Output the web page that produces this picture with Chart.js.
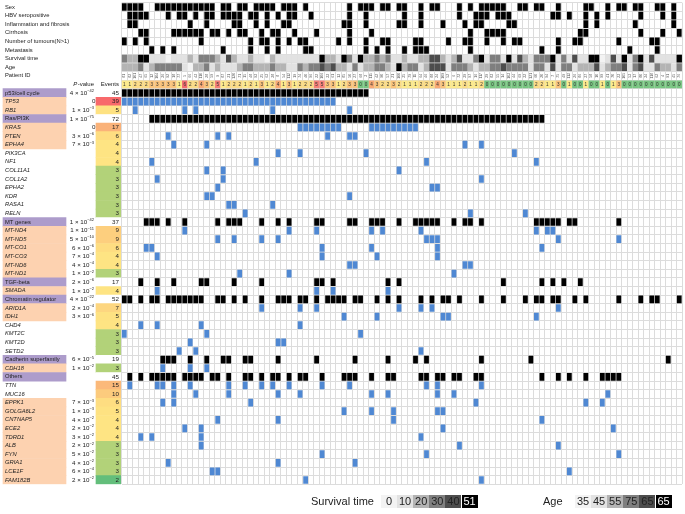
<!DOCTYPE html>
<html>
<head>
<meta charset="utf-8">
<style>
  html, body { margin: 0; padding: 0; background: #fff; width: 685px; height: 514px; overflow: hidden; }
  body { position: relative; font-family: "Liberation Sans", Arial, sans-serif; color: #222; }
  #side-wrap { position: absolute; left: 0; top: 0; width: 121px; height: 514px; }
  #matrix-wrap { position: absolute; left: 121px; top: 0; width: 564px; height: 514px; }
  .legend-title { position: absolute; top: 495px; height: 13px; line-height: 13px; font-size: 11px; }
  .legend-box { position: absolute; top: 495px; height: 13px; width: 16px; line-height: 13px; font-size: 11px; text-align: center; }
</style>
</head>
<body>
<div id="side-wrap"><canvas id="side-chart" width="121" height="514"></canvas></div>
<div id="matrix-wrap"><canvas id="matrix-chart" width="564" height="514"></canvas></div>
<div id="legend"></div>
<script src="https://cdn.jsdelivr.net/npm/chart.js@4"></script>
<script>
// row names, top to bottom
const annotationNames = ['Sex', 'HBV seropositive', 'Inflammation and fibrosis', 'Cirrhosis', 'Number of tumours(N>1)', 'Metastasis', 'Survival time', 'Age', 'Patient ID', ''];
const geneNames = ['p53/cell cycle', 'TP53', 'RB1', 'Ras/PI3K', 'KRAS', 'PTEN', 'EPHA4', 'PIK3CA', 'NF1', 'COL11A1', 'COL1A2', 'EPHA2', 'KDR', 'RASA1', 'RELN',
    'MT genes', 'MT-ND4', 'MT-ND5', 'MT-CO1', 'MT-CO3', 'MT-ND6', 'MT-ND1', 'TGF-beta', 'SMADA', 'Chromatin regulator', 'ARID1A', 'IDH1', 'CHD4', 'KMT2C', 'KMT2D', 'SETD2',
    'Cadherin superfamily', 'CDH18', 'Others', 'TTN', 'MUC16', 'EPPK1', 'GOLGA6L2', 'CNTNAP5', 'ECE2', 'TDRD1', 'ALB', 'FYN', 'GRIA1', 'LCE1F', 'FAM182B'];
const groupNames = ['p53/cell cycle', 'Ras/PI3K', 'MT genes', 'TGF-beta', 'Chromatin regulator', 'Cadherin superfamily', 'Others'];

// mutation events per gene row
const eventCounts = [45, 39, 5, 72, 17, 6, 4, 4, 4, 3, 3, 3, 3, 3, 3, 37, 9, 9, 6, 4, 4, 3, 17, 4, 52, 7, 5, 4, 3, 3, 3, 19, 3, 45, 15, 10, 6, 5, 4, 4, 4, 3, 3, 3, 3, 2];
// [coefficient, exponent]; 0 = printed as 0, null = blank
const pValues = [[4, -42], 0, [1, -3], [1, -75], 0, [3, -6], [7, -3], null, null, null, null, null, null, null, null,
    [1, -42], [1, -11], [5, -10], [6, -6], [7, -4], [4, -4], [1, -2], [2, -6], [1, -2], [4, -22], [2, -4], [3, -6], null, null, null, null,
    [6, -5], [1, -2], null, null, null, [7, -3], [1, -3], [4, -2], [2, -2], [3, -2], [2, -2], [5, -2], [4, -2], [6, -4], [2, -2]];

// patient columns
const patientIds = ['81', '82', '101', '47', '65', '12', '104', '36', '92', '18', '77', '5', '66', '43', '110', '28', '59', '9', '87', '31',
    '120', '71', '15', '48', '93', '25', '63', '38', '8', '54', '112', '19', '74', '40', '96', '22', '106', '33', '61', '13', '85', '50', '27', '68', '3', '115', '42', '90', '57', '21',
    '100', '35', '79', '11', '64', '46', '88', '24', '109', '52', '6', '72', '39', '97', '16', '117', '29', '83', '55', '14', '103', '44', '69', '32', '121', '60', '20', '94', '7', '75',
    '49', '113', '26', '86', '37', '58', '10', '99', '41', '70', '23', '105', '53', '17', '80', '34', '118', '62', '4', '91', '45', '76'];
const sampleEvents = [1, 1, 2, 2, 2, 3, 3, 3, 3, 3, 1, 6, 2, 2, 4, 3, 2, 5, 1, 2,
    2, 2, 1, 2, 1, 3, 1, 2, 4, 1, 3, 1, 2, 2, 2, 5, 5, 3, 3, 1, 2, 3, 3, 0, 0, 4, 3, 2, 2, 3, 2, 1, 1, 1, 2, 2, 2, 4, 3, 1,
    1, 1, 2, 1, 1, 2, 0, 0, 0, 0, 0, 0, 0, 0, 0, 2, 2, 1, 1, 3, 0, 1, 0, 0, 1, 0, 0, 1, 0, 1, 3, 0, 0, 0, 0, 0, 0, 0, 0, 0, 0, 0];
// shade bins for the two grey rows (0 lightest .. 5 black)
const survivalBins = [3, 2, 2, 5, 5, 1, 1, 1, 0, 1, 1, 1, 2, 1, 3, 3, 3, 2, 1, 4,
    2, 1, 1, 2, 1, 1, 0, 2, 1, 1, 1, 1, 1, 1, 1, 1, 5, 2, 2, 1, 5, 3, 1, 5, 2, 2, 3, 2, 3, 1, 1, 2, 1, 1, 2, 2, 4, 4, 2, 1,
    2, 4, 1, 1, 3, 5, 1, 3, 3, 1, 5, 1, 4, 2, 1, 3, 3, 3, 5, 1, 3, 1, 4, 1, 1, 5, 5, 0, 1, 4, 1, 5, 1, 3, 5, 1, 4, 1, 1, 1, 1, 5];
const ageBins = [2, 2, 2, 3, 1, 2, 3, 3, 3, 3, 3, 1, 0, 2, 2, 3, 1, 2, 1, 1,
    1, 2, 3, 3, 2, 2, 2, 3, 2, 2, 1, 1, 3, 2, 3, 3, 4, 3, 4, 2, 2, 1, 3, 1, 2, 2, 3, 3, 2, 1, 5, 2, 3, 3, 1, 2, 4, 4, 4, 1,
    3, 3, 3, 2, 1, 2, 2, 3, 3, 4, 3, 3, 3, 3, 1, 3, 3, 1, 4, 1, 3, 3, 1, 2, 2, 2, 4, 1, 2, 3, 3, 4, 1, 3, 4, 1, 1, 3, 2, 2, 1, 3];

// clinical annotation columns
const sexCols = [0, 1, 2, 3, 6, 7, 8, 9, 10, 11, 12, 13, 14, 15, 16, 18, 19, 21, 22, 24, 25, 26, 27, 29, 30, 31, 33, 41, 43, 44, 45, 47, 48, 50, 51, 54, 56, 57, 61, 63, 65, 66, 67, 68, 69, 72, 73, 75, 76, 79, 84, 85, 88, 90, 91, 93, 94, 97, 98, 100];
const hbvCols = [1, 2, 3, 4, 8, 10, 11, 13, 15, 16, 18, 19, 20, 21, 23, 24, 26, 28, 30, 31, 34, 41, 44, 51, 54, 61, 64, 65, 66, 68, 69, 70, 78, 79, 81, 84, 86, 88, 94, 98, 100];
const inflammationCols = [1, 2, 12, 15, 20, 21, 24, 26, 29, 30, 40, 41, 44, 50, 51, 54, 58, 62, 64, 65, 70, 71, 84, 86, 93, 100];
const cirrhosisCols = [3, 4, 9, 10, 11, 12, 13, 14, 16, 17, 19, 21, 22, 25, 27, 28, 31, 35, 41, 45, 63, 66, 67, 68, 69, 83, 84, 94, 98, 101];
const tumourCols = [0, 2, 4, 14, 23, 25, 26, 28, 30, 32, 33, 39, 41, 44, 47, 48, 53, 54, 59, 62, 63, 66, 69, 71, 72, 79, 82, 83, 90, 96, 97];
const metastasisCols = [5, 7, 9, 18, 23, 26, 28, 33, 34, 44, 46, 48, 51, 53, 54, 55, 63, 76, 79, 92, 97];

// mutated patient columns per gene, same order as geneNames
const p53Cols = [0, 1, 2, 3, 4, 5, 6, 7, 8, 9, 10, 11, 12, 13, 14, 15, 16, 17, 18, 19, 20, 21, 22, 23, 24, 25, 26, 27, 28, 29, 30, 31, 32, 33, 34, 35, 36, 37, 38, 39, 40, 41, 42, 43, 44];
const tp53Cols = [0, 1, 2, 3, 4, 5, 6, 7, 8, 9, 10, 11, 12, 13, 14, 15, 16, 17, 18, 19, 20, 21, 22, 23, 24, 25, 26, 27, 28, 29, 30, 31, 32, 33, 34, 35, 36, 37, 38];
const rb1Cols = [2, 11, 13, 27, 41];
const rasCols = [5, 6, 7, 8, 9, 10, 11, 12, 13, 14, 15, 16, 17, 18, 19, 20, 21, 22, 23, 24, 25, 26, 27, 28, 29, 30, 31, 32, 33, 34, 35, 36, 37, 38, 39, 40, 41, 42, 43, 44, 45, 46, 47, 48, 49, 50, 51, 52, 53, 54, 55, 56, 57, 58, 59, 60, 61, 62, 63, 64, 65, 66, 67, 68, 69, 70, 71, 72, 73, 74, 75, 76];
const krasCols = [32, 33, 34, 35, 36, 37, 38, 39, 45, 46, 47, 48, 49, 50, 51, 52, 53];
const ptenCols = [8, 17, 19, 37, 41, 42];
const epha4Cols = [9, 15, 62, 65];
const pik3caCols = [28, 32, 44, 71];
const nf1Cols = [5, 24, 55, 75];
const col11a1Cols = [15, 18, 50];
const col1a2Cols = [6, 18, 65];
const epha2Cols = [17, 56, 57];
const kdrCols = [15, 16, 41];
const rasa1Cols = [19, 20, 27];
const relnCols = [22, 63, 73];
const mtCols = [4, 5, 6, 8, 11, 17, 19, 20, 21, 25, 28, 30, 35, 36, 41, 42, 45, 46, 47, 50, 53, 54, 55, 56, 57, 60, 62, 63, 65, 75, 76, 77, 78, 79, 81, 82, 90];
const nd4Cols = [11, 30, 35, 45, 47, 54, 75, 77, 78];
const nd5Cols = [17, 20, 25, 28, 55, 56, 57, 79, 90];
const co1Cols = [4, 5, 36, 45, 57, 76];
const co3Cols = [6, 36, 46, 57];
const nd6Cols = [41, 42, 62, 63];
const nd1Cols = [21, 30, 60];
const tgfCols = [3, 6, 9, 14, 15, 20, 25, 35, 36, 38, 48, 50, 69, 76, 78, 80, 83];
const smadaCols = [6, 35, 38, 48];
const chromatinCols = [0, 1, 3, 5, 6, 8, 9, 10, 11, 12, 13, 14, 17, 18, 20, 22, 25, 28, 29, 30, 32, 33, 35, 37, 38, 39, 40, 42, 43, 46, 48, 50, 54, 56, 58, 59, 61, 65, 69, 73, 75, 76, 78, 79, 82, 84, 90, 94, 96, 97, 101];
const arid1aCols = [25, 32, 35, 50, 54, 56, 79];
const idh1Cols = [40, 46, 58, 59, 75];
const chd4Cols = [3, 6, 14, 32];
const kmt2cCols = [0, 15, 43];
const kmt2dCols = [12, 28, 29];
const setd2Cols = [10, 13, 54];
const cadherinCols = [7, 8, 9, 12, 15, 18, 19, 22, 23, 28, 35, 42, 48, 53, 55, 65, 74, 99];
const cdh18Cols = [7, 12, 15];
const othersCols = [1, 3, 5, 6, 7, 8, 9, 11, 12, 13, 14, 16, 17, 19, 22, 23, 25, 27, 28, 30, 32, 33, 36, 40, 41, 42, 45, 48, 49, 54, 55, 57, 58, 60, 61, 64, 65, 76, 79, 81, 84, 87, 88, 89, 90];
const ttnCols = [1, 6, 7, 9, 12, 19, 22, 25, 27, 30, 36, 41, 55, 57, 65];
const muc16Cols = [9, 13, 19, 28, 32, 45, 48, 57, 60, 88];
const eppk1Cols = [7, 9, 23, 64, 84, 87];
const golgaCols = [40, 45, 49, 57, 58];
const cntnap5Cols = [17, 28, 49, 76];
const ece2Cols = [11, 14, 58, 89];
const tdrd1Cols = [3, 5, 14, 54];
const albCols = [14, 61, 79];
const fynCols = [36, 55, 90];
const gria1Cols = [8, 28, 42];
const lce1fCols = [16, 17, 81];
const famCols = [33, 65];

const rowNames = annotationNames.concat(geneNames);
const geneRowStart = annotationNames.length;
const annotationRows = [sexCols, hbvCols, inflammationCols, cirrhosisCols, tumourCols, metastasisCols];
const geneRows = [p53Cols, tp53Cols, rb1Cols, rasCols, krasCols, ptenCols, epha4Cols, pik3caCols, nf1Cols, col11a1Cols, col1a2Cols, epha2Cols, kdrCols, rasa1Cols, relnCols,
    mtCols, nd4Cols, nd5Cols, co1Cols, co3Cols, nd6Cols, nd1Cols, tgfCols, smadaCols, chromatinCols, arid1aCols, idh1Cols, chd4Cols, kmt2cCols, kmt2dCols, setd2Cols,
    cadherinCols, cdh18Cols, othersCols, ttnCols, muc16Cols, eppk1Cols, golgaCols, cntnap5Cols, ece2Cols, tdrd1Cols, albCols, fynCols, gria1Cols, lce1fCols, famCols];

// colours
const BLACK = '#000000';
const BLUE = '#4f88d3';
const GRID = '#dcdcdc';
const PURPLE = '#ad9ccb';
const PEACH = '#fdd2b0';
const greyShades = ['#f3f3f3', '#e2e2e2', '#b4b4b4', '#7f7f7f', '#4d4d4d', '#000000'];
const sampleColors = ['#78c581', '#fdea8b', '#fbdc86', '#fbc47c', '#f9a974', '#f58078', '#f16b6d'];
const eventColors = { 2: '#63be7b', 3: '#b2d279', 4: '#fee483', 5: '#fee282', 6: '#fedd81', 7: '#fdd680', 9: '#fdcf7e', 10: '#fccb7d', 15: '#fbb97a', 17: '#fab279', 39: '#f8696b' };

const columnLabels = patientIds.map((id, i) => String(i));
const PAD = { top: 2.7, bottom: 29.7 };

function isGroup(name) { return groupNames.indexOf(name) !== -1; }

function cell(row) { return [row + 0.05, row + 0.95]; }

function markRow(row, cols, color) {
    const data = columnLabels.map(() => null);
    cols.forEach(c => { data[c] = cell(row); });
    return { data, backgroundColor: color, barPercentage: 0.87, categoryPercentage: 1, grouped: false };
}

function shadedRow(row, values, colors) {
    return {
        data: values.map(() => cell(row)),
        backgroundColor: values.map(v => colors[v]),
        barPercentage: 0.98, categoryPercentage: 1, grouped: false
    };
}

const matrixDatasets = [];
annotationRows.forEach((cols, i) => matrixDatasets.push(markRow(i, cols, BLACK)));
matrixDatasets.push(shadedRow(6, survivalBins, greyShades));
matrixDatasets.push(shadedRow(7, ageBins, greyShades));
matrixDatasets.push(shadedRow(9, sampleEvents, sampleColors));
geneRows.forEach((cols, i) => {
    matrixDatasets.push(markRow(geneRowStart + i, cols, isGroup(geneNames[i]) ? BLACK : BLUE));
});

// tiny texts in the patient id and event rows
const matrixTextPlugin = {
    id: 'matrixText',
    afterDatasetsDraw(chart) {
        const { ctx, scales } = chart;
        ctx.save();
        ctx.textBaseline = 'middle';
        ctx.textAlign = 'center';
        ctx.fillStyle = '#333';
        ctx.font = '4.6px "Liberation Sans"';
        sampleEvents.forEach((v, c) => {
            ctx.fillText(String(v), scales.x.getPixelForValue(c), scales.y.getPixelForValue(9.5));
        });
        ctx.fillStyle = '#555';
        ctx.font = '3.4px "Liberation Sans"';
        patientIds.forEach((id, c) => {
            ctx.save();
            ctx.translate(scales.x.getPixelForValue(c), scales.y.getPixelForValue(8.5));
            ctx.rotate(-Math.PI / 2);
            ctx.fillText(id, 0, 0);
            ctx.restore();
        });
        ctx.restore();
    }
};

new Chart(document.getElementById('matrix-chart').getContext('2d'), {
    type: 'bar',
    data: { labels: columnLabels, datasets: matrixDatasets },
    options: {
        responsive: false,
        animation: false,
        devicePixelRatio: 1,
        layout: { padding: { left: 0.55, right: 3, top: PAD.top, bottom: PAD.bottom } },
        plugins: { legend: { display: false }, tooltip: { enabled: false } },
        scales: {
            x: {
                ticks: { display: false },
                border: { display: false },
                grid: { color: GRID, lineWidth: 1, drawTicks: false, offset: true }
            },
            y: {
                min: 0, max: 56, reverse: true,
                ticks: { display: false, stepSize: 1 },
                border: { display: false },
                grid: { color: GRID, lineWidth: 1, drawTicks: false }
            }
        }
    },
    plugins: [matrixTextPlugin]
});

// left panel: row labels, coloured bands, P-values, event counts
const bandData = rowNames.map((name, i) => {
    if (i < geneRowStart) return null;
    const g = i - geneRowStart;
    return (isGroup(name) || pValues[g] !== null) ? [3, 66] : null;
});
const bandColors = rowNames.map(name => (isGroup(name) ? PURPLE : PEACH));
const eventData = rowNames.map((name, i) => (i < geneRowStart ? null : [96, 121]));
const eventBarColors = rowNames.map((name, i) => {
    if (i < geneRowStart || isGroup(name)) return '#ffffff';
    return eventColors[eventCounts[i - geneRowStart]];
});

const sideTextPlugin = {
    id: 'sideText',
    afterDatasetsDraw(chart) {
        const { ctx, scales } = chart;
        const y = scales.y;
        ctx.save();
        ctx.textBaseline = 'middle';
        ctx.fillStyle = '#222';

        ctx.textAlign = 'right';
        ctx.font = '6px "Liberation Sans"';
        ctx.fillText('Events', 119, y.getPixelForTick(9));
        ctx.fillText('-value', 94, y.getPixelForTick(9));
        const w = ctx.measureText('-value').width;
        ctx.font = 'italic 6px "Liberation Sans"';
        ctx.fillText('P', 94 - w - 0.5, y.getPixelForTick(9));

        geneNames.forEach((name, g) => {
            const py = y.getPixelForTick(geneRowStart + g);
            ctx.textAlign = 'right';
            ctx.font = '6.2px "Liberation Sans"';
            ctx.fillText(String(eventCounts[g]), 119, py);
            const p = pValues[g];
            if (p === null) return;
            if (p === 0) {
                ctx.fillText('0', 95.5, py);
                return;
            }
            ctx.font = '4px "Liberation Sans"';
            const exp = '\u2212' + Math.abs(p[1]);
            ctx.fillText(exp, 94, py - 2.2);
            const expWidth = ctx.measureText(exp).width;
            ctx.font = '6.2px "Liberation Sans"';
            ctx.fillText(p[0] + ' \u00d7 10', 94 - expWidth, py);
        });
        ctx.restore();
    }
};

new Chart(document.getElementById('side-chart').getContext('2d'), {
    type: 'bar',
    data: {
        labels: rowNames,
        datasets: [
            { data: bandData, backgroundColor: bandColors, barPercentage: 1, categoryPercentage: 1, grouped: false },
            { data: eventData, backgroundColor: eventBarColors, barPercentage: 1, categoryPercentage: 1, grouped: false }
        ]
    },
    options: {
        indexAxis: 'y',
        responsive: false,
        animation: false,
        devicePixelRatio: 1,
        layout: { padding: { left: 0, right: 0, top: PAD.top, bottom: PAD.bottom } },
        plugins: { legend: { display: false }, tooltip: { enabled: false } },
        scales: {
            x: { type: 'linear', display: false, min: 0, max: 121 },
            y: {
                border: { display: false },
                grid: { display: false, drawTicks: false },
                // labels sit inside the plot area, the axis takes no room of its own
                afterFit(scale) {
                    scale.width = 0;
                    scale.paddingTop = 0;
                    scale.paddingBottom = 0;
                },
                ticks: {
                    mirror: true,
                    z: 1,
                    padding: 5,
                    autoSkip: false,
                    color: '#222',
                    font: ctx => {
                        const name = rowNames[ctx.index];
                        const gene = ctx.index >= geneRowStart && !isGroup(name);
                        return { family: '"Liberation Sans"', size: 5.8, style: gene ? 'italic' : 'normal' };
                    }
                }
            }
        }
    },
    plugins: [sideTextPlugin]
});

// legends under the chart
const survivalLabels = ['0', '10', '20', '30', '40', '51'];
const ageLabels = ['35', '45', '55', '75', '65', '65'];

function addLegend(title, titleX, boxX, labels) {
    const host = document.getElementById('legend');
    const head = document.createElement('div');
    head.className = 'legend-title';
    head.style.left = titleX + 'px';
    head.textContent = title;
    host.appendChild(head);
    labels.forEach((text, i) => {
        const box = document.createElement('div');
        box.className = 'legend-box';
        box.style.left = (boxX + i * 16.1) + 'px';
        box.style.background = greyShades[i];
        box.style.color = i === 5 ? '#fff' : '#222';
        box.textContent = text;
        host.appendChild(box);
    });
}

addLegend('Survival time', 311, 381, survivalLabels);
addLegend('Age', 543, 575, ageLabels);
</script>
</body>
</html>
